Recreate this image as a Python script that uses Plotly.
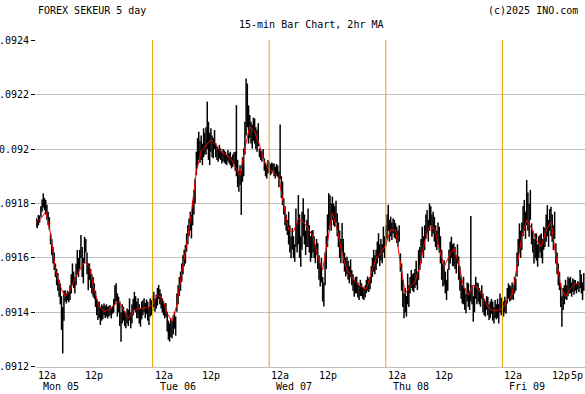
import numpy as np
import plotly.graph_objects as go

# 15-min bars, Mon 05 00:00 -> Fri 09 17:00; prices in millionths (91715 = 0.091715)
LOW_E6 = [
 91715,91709,91720,91730, 91751,91770,91785,91775, 91760,91740,91720,91703, 91650,91610,91580,91556,
 91530,91500,91480,91458, 91430,91336,91250,91370, 91440,91433,91445,91438, 91446,91470,91500,91490,
 91470,91500,91540,91530, 91560,91600,91530,91507, 91580,91620,91540,91482, 91520,91490,91470,91458,
 91450,91420,91390,91372, 91380,91354,91370,91375, 91390,91380,91385,91378, 91385,91390,91378,91395,
 91400,91430,91440,91385, 91400,91350,91293,91360, 91370,91350,91342,91360, 91350,91370,91342,91360,
 91390,91410,91400,91379, 91380,91360,91348,91375, 91390,91400,91379,91395, 91370,91354,91385,91390,
 91405,91420,91403,91415, 91425,91450,91430,91415, 91400,91390,91379,91385, 91330,91300,91293,91310,
 91305,91320,91340,91315, 91403,91430,91460,91480, 91513,91540,91570,91580, 91623,91650,91680,91700,
 91672,91720,91760,91800, 91904,91940,91960,91950, 91960,91941,91970,91980, 91980,92000,91960,91941,
 91990,91970,91966,92000, 91970,91960,91953,91965, 91960,91947,91955,91950, 91945,91941,91955,91948,
 91940,91929,91935,91945, 91920,91900,91860,91843, 91868,91758,91880,91900, 91980,92050,92080,92020,
 92040,92020,92002,92030, 92020,92000,91990,92010, 91970,91960,91953,91965, 91920,91900,91892,91910,
 91915,91904,91910,91920, 91900,91892,91905,91898, 91860,91890,91820,91794, 91760,91720,91700,91684,
 91650,91620,91599,91630, 91600,91586,91640,91620, 91650,91600,91568,91630, 91680,91650,91611,91640,
 91640,91620,91586,91600, 91620,91600,91581,91610, 91560,91520,91495,91510, 91440,91422,91500,91560,
 91640,91703,91720,91700, 91740,91720,91715,91730, 91680,91640,91600,91581, 91620,91580,91550,91532,
 91540,91520,91507,91530, 91500,91480,91458,91470, 91470,91455,91446,91460, 91460,91450,91446,91455,
 91471,91480,91475,91485, 91507,91530,91550,91540, 91556,91580,91600,91570, 91590,91581,91620,91600,
 91642,91670,91700,91660, 91680,91666,91690,91675, 91670,91655,91642,91660, 91550,91480,91420,91379,
 91400,91385,91430,91420, 91470,91490,91480,91475, 91490,91500,91482,91520, 91556,91580,91620,91600,
 91629,91670,91690,91660, 91700,91720,91678,91690, 91660,91640,91629,91650, 91620,91580,91520,91495,
 91500,91470,91446,91480, 91556,91580,91600,91570, 91570,91560,91543,91580, 91520,91480,91450,91433,
 91430,91410,91397,91440, 91420,91409,91440,91430, 91366,91400,91450,91430, 91440,91430,91421,91450,
 91400,91390,91385,91410, 91390,91372,91380,91395, 91370,91360,91380,91375, 91380,91360,91400,91390,
 91390,91385,91400,91395, 91433,91450,91440,91445, 91450,91446,91470,91480, 91531,91570,91620,91600,
 91629,91680,91700,91670, 91720,91700,91678,91740, 91650,91620,91580,91600, 91590,91568,91600,91620,
 91600,91580,91630,91640, 91660,91680,91641,91700, 91680,91660,91629,91670, 91580,91540,91500,91482,
 91420,91348,91409,91430, 91450,91446,91460,91470, 91470,91458,91475,91465, 91480,91470,91485,91475,
 91490,91470,91446,91480,
]
HIGH_E6 = [
 91748,91740,91758,91756, 91790,91815,91837,91820, 91813,91795,91770,91750, 91690,91670,91640,91620,
 91580,91560,91545,91520, 91507,91460,91420,91480, 91482,91470,91480,91475, 91500,91540,91580,91550,
 91530,91580,91629,91600, 91630,91684,91640,91600, 91678,91670,91620,91580, 91580,91560,91540,91530,
 91507,91480,91450,91440, 91440,91420,91430,91425, 91433,91425,91430,91420, 91425,91427,91415,91425,
 91450,91500,91507,91470, 91458,91440,91400,91430, 91421,91405,91395,91415, 91410,91452,91400,91430,
 91450,91476,91460,91440, 91452,91430,91415,91440, 91445,91452,91435,91448, 91440,91420,91452,91445,
 91460,91476,91450,91465, 91490,91501,91485,91470, 91452,91440,91430,91435, 91403,91370,91360,91380,
 91370,91390,91403,91385, 91470,91500,91530,91550, 91580,91610,91630,91648, 91690,91720,91745,91770,
 91760,91810,91850,91892, 91990,92040,92063,92030, 92050,92020,92076,92060, 92080,92174,92100,92060,
 92076,92050,92040,92070, 92021,92010,92000,92015, 92002,91990,92000,91995, 91990,91980,91996,91985,
 91990,91970,91980,91988, 91990,92161,91960,91920, 91940,91920,91970,92002, 92100,92259,92240,92160,
 92125,92100,92090,92115, 92112,92080,92070,92095, 92002,91995,91990,92000, 91966,91950,91940,91960,
 91953,91945,91950,91948, 91947,91935,91945,91940, 91917,92090,91900,91880, 91819,91790,91760,91740,
 91770,91720,91680,91710, 91680,91650,91782,91730, 91831,91760,91680,91770, 91819,91760,91700,91740,
 91782,91720,91680,91700, 91703,91680,91650,91670, 91654,91610,91580,91600, 91530,91510,91620,91680,
 91760,91838,91830,91800, 91825,91800,91790,91810, 91764,91730,91700,91670, 91728,91670,91620,91600,
 91605,91590,91570,91595, 91556,91540,91520,91530, 91532,91510,91500,91520, 91507,91495,91490,91500,
 91520,91532,91525,91530, 91570,91600,91630,91610, 91630,91660,91691,91650, 91670,91650,91715,91680,
 91720,91760,91795,91740, 91752,91730,91745,91740, 91728,91715,91700,91720, 91617,91580,91520,91470,
 91490,91460,91543,91500, 91530,91556,91540,91545, 91560,91590,91550,91629, 91640,91670,91715,91680,
 91720,91760,91776,91740, 91800,91790,91760,91770, 91751,91720,91700,91730, 91715,91680,91630,91580,
 91592,91550,91520,91560, 91630,91660,91678,91650, 91654,91640,91610,91650, 91605,91570,91530,91500,
 91531,91490,91470,91510, 91507,91480,91754,91500, 91460,91500,91531,91510, 91507,91490,91480,91500,
 91470,91450,91440,91460, 91458,91430,91440,91450, 91440,91420,91446,91430, 91450,91430,91470,91455,
 91450,91440,91458,91445, 91490,91507,91500,91495, 91510,91500,91531,91525, 91620,91670,91727,91700,
 91730,91790,91813,91770, 91886,91840,91800,91850, 91727,91700,91670,91690, 91690,91650,91680,91685,
 91690,91670,91715,91710, 91760,91794,91740,91780, 91788,91760,91720,91770, 91654,91620,91580,91550,
 91507,91460,91490,91500, 91520,91500,91531,91525, 91531,91510,91525,91520, 91519,91505,91515,91510,
 91556,91540,91510,91545,
]
# 2hr moving average, read hourly
MA_E6 = [
 91727,91745,91770,91690,91556,91495,91458,91482,91525,91556,91586,91568,91482,91421,91403,91411,
 91427,91440,91409,91379,91403,91415,91415,91418,91428,91464,91452,91397,91366,91428,91550,91648,
 91770,91917,91990,92015,92033,92015,91992,91980,91968,91935,91904,92002,92082,92063,92015,91953,
 91923,91914,91892,91794,91703,91697,91745,91733,91709,91679,91605,91556,91666,91765,91703,91617,
 91556,91532,91507,91495,91485,91544,91599,91617,91648,91703,91703,91581,91470,91495,91513,91568,
 91660,91715,91709,91635,91568,91605,91635,91580,91495,91464,91501,91488,91458,91421,91407,91407,
 91415,91446,91464,91568,91678,91739,91709,91666,91641,91703,91733,91605,91495,91458,91488,91507,
 91501,
]
Y_TICKS = [0.0912, 0.0914, 0.0916, 0.0918, 0.0920, 0.0922, 0.0924]
Y_TICK_TEXT = [".0912", ".0914", ".0916", ".0918", "0.092", ".0922", ".0924"]
X_TICK_HOURS = [0, 12, 24, 36, 48, 60, 72, 84, 96, 108, 113]
X_TICK_TEXT = ["12a", "12p", "12a", "12p", "12a", "12p", "12a", "12p", "12a", "12p", "5p"]
DAY_HOURS = [0, 24, 48, 72, 96]
DAY_TEXT = ["Mon 05", "Tue 06", "Wed 07", "Thu 08", "Fri 09"]

n = min(len(LOW_E6), len(HIGH_E6))
t_bars = np.arange(n) * 0.25
lows = np.array(LOW_E6[:n]) / 1e6
highs = np.array(HIGH_E6[:n]) / 1e6
t_ma = np.arange(len(MA_E6)) * 1.0
ma = np.array(MA_E6) / 1e6

bx, by = [], []
for t, lo, hi in zip(t_bars, lows, highs):
    bx += [t, t, None]
    by += [lo, hi, None]

FONT = "DejaVu Sans Mono"
fig = go.Figure()
fig.add_trace(go.Scatter(x=bx, y=by, mode="lines", line=dict(color="black", width=1.5),
                         hoverinfo="skip", showlegend=False))
fig.add_trace(go.Scatter(x=t_ma, y=ma, mode="lines", line=dict(color="#ff0000", width=1),
                         showlegend=False))

for h in DAY_HOURS[1:]:
    fig.add_shape(type="line", xref="x", yref="paper", x0=h, x1=h, y0=0, y1=1,
                  line=dict(color="#e8a200", width=1))

for h, txt in zip(X_TICK_HOURS, X_TICK_TEXT):
    if txt == "12a":
        anchor = "left"
    elif h == X_TICK_HOURS[-1]:
        anchor = "right"
    else:
        anchor = "center"
    fig.add_annotation(x=h, y=0, xref="x", yref="paper", text=txt, showarrow=False,
                       xanchor=anchor, yanchor="top",
                       yshift=-1, font=dict(family=FONT, size=10, color="black"))
for h, txt in zip(DAY_HOURS, DAY_TEXT):
    fig.add_annotation(x=h, y=0, xref="x", yref="paper", text=txt, showarrow=False,
                       xanchor="left", xshift=5, yanchor="top", yshift=-12,
                       font=dict(family=FONT, size=10, color="black"))

fig.add_annotation(x=0, y=1.090, xref="paper", yref="paper", text="FOREX SEKEUR 5 day",
                   showarrow=False, xanchor="left", yanchor="middle",
                   font=dict(family=FONT, size=10, color="black"))
fig.add_annotation(x=0.501, y=1.048, xref="paper", yref="paper", text="15-min Bar Chart, 2hr MA",
                   showarrow=False, xanchor="center", yanchor="middle",
                   font=dict(family=FONT, size=10, color="black"))
fig.add_annotation(x=0.991, y=1.090, xref="paper", yref="paper", text="(c)2025 INO.com",
                   showarrow=False, xanchor="right", yanchor="middle",
                   font=dict(family=FONT, size=10, color="black"))

fig.update_layout(
    width=585, height=394,
    margin=dict(l=36, r=0, t=40, b=27, pad=0),
    paper_bgcolor="white", plot_bgcolor="white",
    font=dict(family=FONT, size=10, color="black"),
    xaxis=dict(range=[0, 113], showgrid=False, showticklabels=False, ticks="",
               zeroline=False, showline=True, linecolor="#c0c0c0", linewidth=1),
    yaxis=dict(range=[0.0911999, 0.0924001], tickvals=Y_TICKS, ticktext=Y_TICK_TEXT,
               showgrid=True, gridcolor="#c0c0c0", gridwidth=1, zeroline=False,
               ticks="outside", ticklen=4, tickcolor="black", showline=False,
               tickfont=dict(family=FONT, size=10, color="black")),
)

fig.write_html("out.html")
